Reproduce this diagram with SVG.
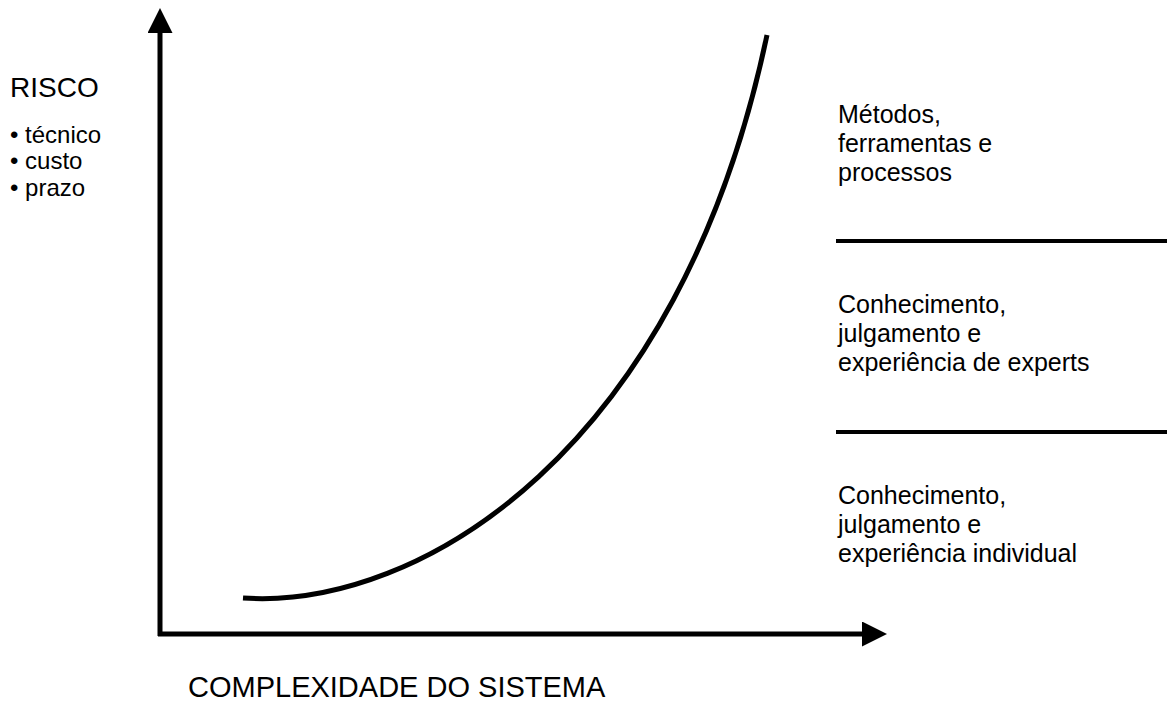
<svg xmlns="http://www.w3.org/2000/svg" width="1167" height="702" viewBox="0 0 1167 702">
  <style>
    .t { font-family: "Liberation Sans", Arial, sans-serif; fill: #000; }
    .lbl { font-size: 25px; }
    .bul { font-size: 24px; }
    .ax { stroke: #000; stroke-width: 5; fill: none; }
    .sep { stroke: #000; stroke-width: 4; }
  </style>
  <defs>
    <marker id="head" viewBox="0 0 10 10" refX="0" refY="5" markerWidth="5" markerHeight="5" markerUnits="strokeWidth" orient="auto">
      <path d="M0,0 L10,5 L0,10 Z" fill="#000"/>
    </marker>
  </defs>

  <!-- axes and risk curve -->
  <g id="connectors">
    <path id="axis-y" class="ax" d="M160,636 L160,33" marker-end="url(#head)"/>
    <path id="axis-x" class="ax" d="M158,634 L862,634" marker-end="url(#head)"/>
    <path id="curve" class="ax" stroke-width="4.5" d="M243,598 C420,610 680,450 767,35"/>
  </g>

  <!-- vertical axis label -->
  <g id="risco">
    <text class="t" x="10" y="97" font-size="28">RISCO</text>
    <text class="t bul" x="10" y="143">• técnico</text>
    <text class="t bul" x="10" y="169">• custo</text>
    <text class="t bul" x="10" y="196">• prazo</text>
  </g>

  <!-- horizontal axis label -->
  <g id="complexidade">
    <text class="t" x="188" y="697" font-size="29">COMPLEXIDADE DO SISTEMA</text>
  </g>

  <!-- band separators -->
  <g id="separators">
    <line class="sep" x1="836" y1="241" x2="1167" y2="241"/>
    <line class="sep" x1="836" y1="432" x2="1167" y2="432"/>
  </g>

  <g id="band-top">
    <text class="t lbl" x="838" y="123">Métodos,</text>
    <text class="t lbl" x="838" y="152">ferramentas e</text>
    <text class="t lbl" x="838" y="181">processos</text>
  </g>
  <g id="band-mid">
    <text class="t lbl" x="838" y="313">Conhecimento,</text>
    <text class="t lbl" x="838" y="342">julgamento e</text>
    <text class="t lbl" x="838" y="371">experiência de experts</text>
  </g>
  <g id="band-low">
    <text class="t lbl" x="838" y="504">Conhecimento,</text>
    <text class="t lbl" x="838" y="533">julgamento e</text>
    <text class="t lbl" x="838" y="562">experiência individual</text>
  </g>
</svg>
